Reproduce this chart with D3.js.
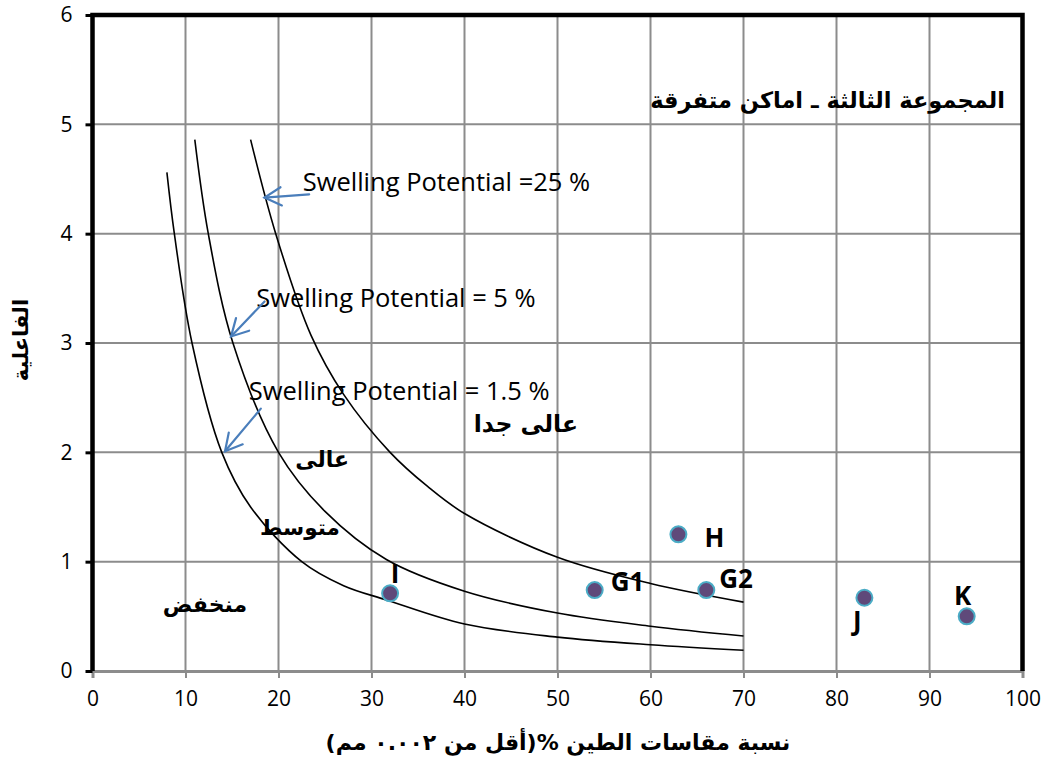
<!DOCTYPE html>
<html>
<head>
<meta charset="utf-8">
<script src="https://cdn.jsdelivr.net/npm/d3@7"></script>
<style>
  body { margin: 0; background: #fff; }
  svg { display: block; }
</style>
</head>
<body>
<svg id="chart" width="1045" height="763"></svg>
<script>
// Axis ticks
const xTicks = [0, 10, 20, 30, 40, 50, 60, 70, 80, 90, 100];
const yTicks = [0, 1, 2, 3, 4, 5, 6];

// Swelling potential boundary curves (clay % vs activity)
const curveLowX  = [8, 8.8, 10.7, 13.9, 17, 22.5, 27, 31.6, 40, 50, 60, 70];
const curveLowY  = [4.56, 4.0, 3.0, 2.0, 1.5, 1.0, 0.78, 0.65, 0.43, 0.31, 0.24, 0.19];
const curveMidX  = [11, 12.45, 15.1, 20, 25, 31.6, 40, 50, 60, 70];
const curveMidY  = [4.86, 4.0, 3.0, 2.0, 1.46, 1.02, 0.73, 0.53, 0.41, 0.32];
const curveHighX = [17, 19.7, 23.5, 27, 32, 36, 40, 50, 60, 70];
const curveHighY = [4.86, 4.0, 3.07, 2.53, 2.0, 1.69, 1.44, 1.04, 0.80, 0.63];

// Soil samples
const sampleNames    = ["I", "G1", "G2", "H", "J", "K"];
const sampleClay     = [32, 54, 66, 63, 83, 94];
const sampleActivity = [0.71, 0.74, 0.74, 1.25, 0.67, 0.50];

// Curve captions
const captionTexts = ["Swelling Potential =25 %", "Swelling Potential = 5 %", "Swelling Potential = 1.5 %"];
const captionX = [22.6, 17.6, 16.8];
const captionY = [4.39, 3.33, 2.48];
// Arrows from caption to curve
const arrowTailX = [23.3, 18.5, 18.1];
const arrowTailY = [4.36, 3.38, 2.40];
const arrowHeadX = [18.5, 14.9, 14.25];
const arrowHeadY = [4.33, 3.06, 2.01];

// Zone names
const zoneTexts = ["عالى جدا", "عالى", "متوسط", "منخفض"];
const zoneX = [46.6, 24.7, 22.3, 12.1];
const zoneY = [2.19, 1.87, 1.24, 0.54];

const title = "المجموعة الثالثة ـ اماكن متفرقة";
const xTitle = "نسبة مقاسات الطين %(أقل من ٠.٠٠٢ مم)";
const yTitle = "الفاعلية";

const svg = d3.select("#chart");
const x = d3.scaleLinear().domain([0, 100]).range([92.5, 1022.5]);
const y = d3.scaleLinear().domain([0, 6]).range([671, 15]);

const latin = "'Open Sans', sans-serif";
const arabic = "'DejaVu Sans', sans-serif";

// Gridlines
svg.append("g").selectAll("line").data(xTicks.slice(1, -1)).join("line")
  .attr("x1", d => x(d)).attr("x2", d => x(d)).attr("y1", y(0)).attr("y2", y(6))
  .attr("stroke", "#8c8c8c").attr("stroke-width", 2);
svg.append("g").selectAll("line").data(yTicks.slice(1, -1)).join("line")
  .attr("x1", x(0)).attr("x2", x(100)).attr("y1", d => y(d)).attr("y2", d => y(d))
  .attr("stroke", "#8c8c8c").attr("stroke-width", 2);

// Axes
const xAxis = svg.append("g").attr("transform", `translate(0,${y(0)})`)
  .call(d3.axisBottom(x).tickValues(xTicks).tickSize(7).tickPadding(13).tickFormat(d3.format("d")));
xAxis.select(".domain").attr("stroke", "#8c8c8c").attr("stroke-width", 3);
xAxis.selectAll(".tick line").attr("stroke", "#8c8c8c").attr("stroke-width", 2);
xAxis.selectAll("text").attr("font-family", latin).attr("font-size", 21).attr("fill", "#000");

const yAxis = svg.append("g").attr("transform", `translate(${x(0)},0)`)
  .call(d3.axisLeft(y).tickValues(yTicks).tickSize(7).tickPadding(13).tickFormat(d3.format("d")));
yAxis.select(".domain").remove();
yAxis.selectAll(".tick line").attr("stroke", "#000").attr("stroke-width", 3);
yAxis.selectAll("text").attr("font-family", latin).attr("font-size", 21).attr("fill", "#000");

// Plot border (left, top, right)
svg.append("path")
  .attr("d", `M${x(0)},${y(0)} L${x(0)},${y(6)} L${x(100)},${y(6)} L${x(100)},${y(0)}`)
  .attr("fill", "none").attr("stroke", "#000").attr("stroke-width", 4.5);

// Boundary curves
const line = d3.line().x(d => x(d[0])).y(d => y(d[1])).curve(d3.curveCatmullRom.alpha(0.5));
[[curveLowX, curveLowY], [curveMidX, curveMidY], [curveHighX, curveHighY]].forEach(([cx, cy]) => {
  svg.append("path").datum(d3.zip(cx, cy)).attr("d", line)
    .attr("fill", "none").attr("stroke", "#000").attr("stroke-width", 1.6);
});

// Captions and arrows
svg.append("g").selectAll("text").data(captionTexts).join("text")
  .attr("x", (d, i) => x(captionX[i])).attr("y", (d, i) => y(captionY[i]))
  .attr("font-family", latin).attr("font-size", 25.5).attr("fill", "#000").text(d => d);

const arrowColor = "#4a7ebb";
captionTexts.forEach((t, i) => {
  const tx = x(arrowTailX[i]), ty = y(arrowTailY[i]);
  const hx = x(arrowHeadX[i]), hy = y(arrowHeadY[i]);
  const ang = Math.atan2(ty - hy, tx - hx);
  const len = 19, spread = 0.5;
  const g = svg.append("g").attr("stroke", arrowColor).attr("stroke-width", 2.2)
    .attr("fill", "none").attr("stroke-linecap", "round");
  g.append("line").attr("x1", tx).attr("y1", ty).attr("x2", hx).attr("y2", hy);
  g.append("path").attr("d",
    `M${hx + len * Math.cos(ang + spread)},${hy + len * Math.sin(ang + spread)} L${hx},${hy} L${hx + len * Math.cos(ang - spread)},${hy + len * Math.sin(ang - spread)}`);
});

// Zone names
const zoneSize = [23.5, 22, 21.5, 22];
svg.append("g").selectAll("text").data(zoneTexts).join("text")
  .attr("x", (d, i) => x(zoneX[i])).attr("y", (d, i) => y(zoneY[i]))
  .attr("text-anchor", "middle").attr("direction", "rtl")
  .attr("font-family", arabic).attr("font-weight", "bold").attr("font-size", (d, i) => zoneSize[i])
  .attr("fill", "#000").text(d => d);

// Title
svg.append("text").attr("x", 1005).attr("y", 108).attr("text-anchor", "start").attr("direction", "rtl")
  .attr("font-family", arabic).attr("font-weight", "bold").attr("font-size", 22.5).attr("fill", "#000")
  .text(title);

// Samples
const samples = sampleNames.map((n, i) => ({ name: n, clay: sampleClay[i], act: sampleActivity[i] }));
svg.append("g").selectAll("circle").data(samples).join("circle")
  .attr("cx", d => x(d.clay)).attr("cy", d => y(d.act)).attr("r", 8)
  .attr("fill", "#5f497a").attr("stroke", "#4bacc6").attr("stroke-width", 2);

// Sample label placement relative to marker (px)
const labelOffset = {
  I:  { dx: 5,   dy: -10, anchor: "middle" },
  G1: { dx: 16,  dy: 1,   anchor: "start" },
  G2: { dx: 13,  dy: -2,  anchor: "start" },
  H:  { dx: 26,  dy: 13,  anchor: "start" },
  J:  { dx: -7,  dy: 32,  anchor: "middle" },
  K:  { dx: -4,  dy: -11, anchor: "middle" }
};
svg.append("g").selectAll("text").data(samples).join("text")
  .attr("x", d => x(d.clay) + labelOffset[d.name].dx)
  .attr("y", d => y(d.act) + labelOffset[d.name].dy)
  .attr("text-anchor", d => labelOffset[d.name].anchor)
  .attr("font-family", latin).attr("font-weight", "bold").attr("font-size", 26)
  .attr("fill", "#000").text(d => d.name);

// Axis titles
svg.append("text").attr("x", 558).attr("y", 750).attr("text-anchor", "middle").attr("direction", "rtl")
  .attr("font-family", arabic).attr("font-weight", "bold").attr("font-size", 22).attr("fill", "#000")
  .text(xTitle);
svg.append("text").attr("transform", "translate(28,340) rotate(-90)").attr("text-anchor", "middle")
  .attr("direction", "rtl")
  .attr("font-family", arabic).attr("font-weight", "bold").attr("font-size", 21).attr("fill", "#000")
  .text(yTitle);
</script>
</body>
</html>
